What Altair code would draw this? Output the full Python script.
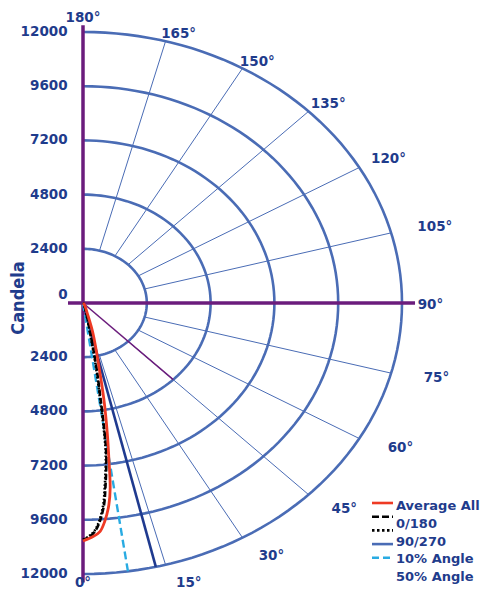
import altair as alt
import pandas as pd
import numpy as np

# ---------------- data (polar: angle in degrees, candela) ----------------
RING_CD = [2400, 4800, 7200, 9600, 12000]
TICK_CD = [2400, 4800, 7200, 9600, 12000]
SPOKE_DEG = [15, 30, 45, 60, 75, 105, 120, 135, 150, 165]
ANGLE_LABEL_DEG = [0, 15, 30, 45, 60, 75, 90, 105, 120, 135, 150, 165, 180]

avg_deg = [0, 2.1, 3.6, 4.8, 6.2, 7.1, 8.1, 9.0, 10.4, 12.0, 15.6, 19.5, 26, 35, 50]
avg_cd = [10540, 10350, 10145, 9720, 9000, 8270, 6877, 5843, 4368, 2884, 1393, 484, 200, 60, 0]

c0_deg = [0, 1.0, 2.5, 3.7, 5.05, 5.85, 7.35, 8.05, 8.8, 10.06, 11.6, 15.2, 22, 35, 50]
c0_cd = [10494, 10394, 10135, 9705, 8977, 8250, 6862, 5828, 4347, 2865, 1370, 473, 150, 30, 0]

c90_deg = [0, 1.0, 2.4, 3.6, 4.9, 5.7, 7.2, 7.9, 8.6, 9.8, 11.3, 14.8, 21, 35, 50]
c90_cd = [10470, 10370, 10110, 9680, 8950, 8220, 6840, 5800, 4320, 2840, 1350, 460, 140, 30, 0]

ten_deg, ten_cd = [13.2, 13.2], [0, 12000]
fifty_deg, fifty_cd = [8.1, 8.1], [0, 12050]
diag_deg, diag_cd = [45, 45], [0, 4800]

AXIS_V = [12300, -12380]   # vertical axis extent (candela units, up / down)
AXIS_H = [-564, 12490]     # horizontal axis extent

LEGEND_LABELS = ["Average All", "0/180", "90/270", "10% Angle", "50% Angle"]

# ---------------- styles ----------------
GRID = "#4a6cb5"
PURPLE = "#6b1c7c"
TEXT = "#1f3c8c"
RED = "#ee3a24"
NAVY = "#1f3a8f"
LBLUE = "#29abe2"
FONT = "DejaVu Sans"

W, H = 473, 584
PX_X = 319 / 12000
PX_Y = 271 / 12000
XMIN = -(83 - 8) / PX_X
XMAX = XMIN + W / PX_X
YMAX = (303 - 8) / PX_Y
YMIN = YMAX - H / PX_Y

XS = alt.Scale(domain=[XMIN, XMAX], nice=False, zero=False)
YS = alt.Scale(domain=[YMIN, YMAX], nice=False, zero=False)


def X(f="x"):
    return alt.X(f"{f}:Q", scale=XS, axis=None)


def Y(f="y"):
    return alt.Y(f"{f}:Q", scale=YS, axis=None)


def polar(ch, a="a", r="r", xo="x", yo="y"):
    return ch.transform_calculate(
        **{xo: f"datum.{r}*sin(datum.{a}*PI/180)", yo: f"-datum.{r}*cos(datum.{a}*PI/180)"}
    )


# rings
ring_rows = [{"ring": r, "a": a} for r in RING_CD for a in range(0, 181, 2)]
ring_df = pd.DataFrame(ring_rows)
rings = polar(alt.Chart(ring_df), r="ring").mark_line(color=GRID, strokeWidth=2.6).encode(
    x=X(), y=Y(), detail="ring:N", order="a:Q"
)

# spokes
spoke_df = pd.DataFrame({"a": SPOKE_DEG})
spokes = (
    alt.Chart(spoke_df)
    .transform_calculate(
        x=f"{RING_CD[0]}*sin(datum.a*PI/180)",
        y=f"-{RING_CD[0]}*cos(datum.a*PI/180)",
        x2=f"{RING_CD[-1]}*sin(datum.a*PI/180)",
        y2=f"-{RING_CD[-1]}*cos(datum.a*PI/180)",
    )
    .mark_rule(color=GRID, strokeWidth=1)
    .encode(x=X(), y=Y(), x2="x2:Q", y2="y2:Q")
)

# axes
axes_df = pd.DataFrame(
    {"x1": [0, AXIS_H[0]], "x2": [0, AXIS_H[1]], "y1": [AXIS_V[0], 0], "y2": [AXIS_V[1], 0]}
)
axes = alt.Chart(axes_df).mark_rule(color=PURPLE, strokeWidth=3.5).encode(
    x=X("x1"), y=Y("y1"), x2="x2:Q", y2="y2:Q"
)


def ray_or_curve(deg, cd, **mk):
    df = pd.DataFrame({"a": deg, "r": cd, "i": range(len(deg))})
    return polar(alt.Chart(df)).mark_line(**mk).encode(x=X(), y=Y(), order="i:Q")


diag = ray_or_curve(diag_deg, diag_cd, color=PURPLE, strokeWidth=1.5)
ten = ray_or_curve(ten_deg, ten_cd, color=NAVY, strokeWidth=2.6)
fifty = ray_or_curve(fifty_deg, fifty_cd, color=LBLUE, strokeWidth=2.4, strokeDash=[8, 4])
c90 = ray_or_curve(c90_deg, c90_cd, color="black", strokeWidth=2.6, strokeDash=[1.6, 2],
                   interpolate="catmull-rom")
c0 = ray_or_curve(c0_deg, c0_cd, color="black", strokeWidth=2.6, strokeDash=[6, 2.5],
                  interpolate="catmull-rom")
avg = ray_or_curve(avg_deg, avg_cd, color=RED, strokeWidth=2.8, interpolate="catmull-rom")

# radial tick labels
tick_df = pd.DataFrame(
    [{"v": v, "s": 1, "t": str(v)} for v in TICK_CD] + [{"v": v, "s": -1, "t": str(v)} for v in TICK_CD]
)
tick_text = (
    alt.Chart(tick_df)
    .transform_calculate(x="-580", y="datum.s*datum.v")
    .mark_text(align="right", baseline="middle", font=FONT, fontSize=13.5, fontWeight="bold", color=TEXT)
    .encode(x=X(), y=Y(), text="t:N")
)
zero_text = (
    alt.Chart(pd.DataFrame({"t": ["0"], "v": [0]}))
    .transform_calculate(x="-580", y="datum.v")
    .mark_text(align="right", baseline="middle", dy=-8, font=FONT, fontSize=13.5, fontWeight="bold", color=TEXT)
    .encode(x=X(), y=Y(), text="t:N")
)

# angle labels
ang_df = pd.DataFrame({"a": ANGLE_LABEL_DEG})
ang_text = (
    alt.Chart(ang_df)
    .transform_calculate(
        k="datum.a==0 ? 1.026 : (datum.a==15 ? 1.078 : (datum.a==180 ? 1.06 : (datum.a==90 ? 1.089 : "
          "(datum.a<90 ? 1.1+0.04*clamp((datum.a-30)/45,0,1) : 1.045+0.095*pow((165-datum.a)/60,2)))))",
        d="(datum.a==0||datum.a==180||datum.a==90) ? 0 : (datum.a<90 ? "
          "0.55/sin(datum.a*PI/180)+1.6*sin(2*datum.a*PI/180) : -(datum.a-90)/45)",
        x=f"{RING_CD[-1]}*datum.k*sin((datum.a+datum.d)*PI/180)",
        y=f"-{RING_CD[-1]}*datum.k*cos((datum.a+datum.d)*PI/180)",
        t="datum.a + '°'",
    )
    .mark_text(align="center", baseline="middle", dy=2, font=FONT, fontSize=13.5, fontWeight="bold", color=TEXT)
    .encode(x=X(), y=Y(), text="t:N")
)

# title
title = alt.Chart(pd.DataFrame({"t": ["Candela"]})).mark_text(
    angle=270, align="center", baseline="middle", font="Liberation Sans Narrow, DejaVu Sans Condensed, sans-serif",
    fontSize=18, fontWeight="bold", color=TEXT
).encode(x=alt.value(11), y=alt.value(290), text="t:N")

# legend (manual)
leg_df = pd.DataFrame({"label": LEGEND_LABELS, "i": range(len(LEGEND_LABELS))})
leg_text = (
    alt.Chart(leg_df)
    .transform_calculate(py="498 + 17.75*datum.i")
    .mark_text(align="left", baseline="middle", font=FONT, fontSize=13, fontWeight="bold", color=TEXT)
    .encode(x=alt.value(388), y=alt.Y("py:Q", scale=None), text="label:N")
)
sym_styles = [
    dict(color=RED, strokeWidth=2.6),
    dict(color="black", strokeWidth=2.6, strokeDash=[7, 3]),
    dict(color="black", strokeWidth=2.6, strokeDash=[2.5, 2.5]),
    dict(color=GRID, strokeWidth=2.6),
    dict(color=LBLUE, strokeWidth=2.6, strokeDash=[7, 4]),
]
leg_syms = []
for i, st in enumerate(sym_styles):
    leg_syms.append(
        alt.Chart(leg_df)
        .transform_filter(f"datum.i=={i}")
        .transform_calculate(py="495 + 13.7*datum.i")
        .mark_rule(**st)
        .encode(x=alt.value(364), x2=alt.value(385), y=alt.Y("py:Q", scale=None))
    )

chart = (
    alt.layer(rings, spokes, axes, diag, ten, fifty, c90, c0, avg, tick_text, zero_text, ang_text, title,
              leg_text, *leg_syms)
    .properties(width=W, height=H, autosize=alt.AutoSizeParams(type="none"), padding=0)
    .configure_view(stroke=None)
)

chart.save("out.html", embed_options={"renderer": "svg", "actions": False})
